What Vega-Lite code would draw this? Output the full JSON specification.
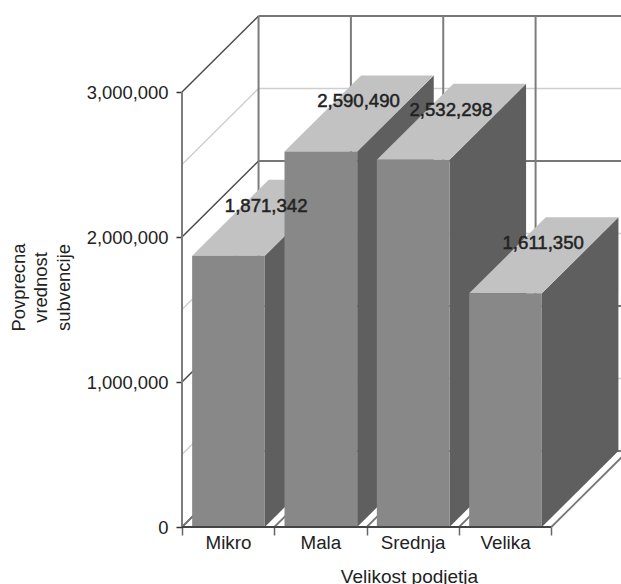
{
  "$schema": "https://vega.github.io/schema/vega-lite/v6.json",
  "autosize": "none",
  "width": 439,
  "height": 511,
  "padding": {"left": 182, "top": 16, "right": 0, "bottom": 57},
  "background": "white",
  "config": {"view": {"stroke": null}, "font": "Liberation Sans"},
  "datasets": {
    "firms": [
      {"size": "Mikro", "value": 1871342},
      {"size": "Mala", "value": 2590490},
      {"size": "Srednja", "value": 2532298},
      {"size": "Velika", "value": 1611350}
    ],
    "levels": [
      {"level": 0, "tier": "major"},
      {"level": 500000, "tier": "minor"},
      {"level": 1000000, "tier": "major"},
      {"level": 1500000, "tier": "minor"},
      {"level": 2000000, "tier": "major"},
      {"level": 2500000, "tier": "minor"},
      {"level": 3000000, "tier": "major"}
    ],
    "boundaries": [
      {"boundary": 0},
      {"boundary": 1},
      {"boundary": 2},
      {"boundary": 3},
      {"boundary": 4}
    ]
  },
  "layer": [
    {
      "description": "Left wall: receding grid lines, with both axes attached",
      "data": {"name": "levels"},
      "transform": [
        {"calculate": "datum.level + 524138", "as": "backLevel"},
        {"calculate": "0", "as": "wallFront"},
        {"calculate": "0.829", "as": "wallBack"}
      ],
      "mark": {"type": "rule", "strokeWidth": 1.5},
      "encoding": {
        "x": {
          "field": "wallFront",
          "type": "quantitative",
          "scale": {"domain": [0, 4.754], "nice": false, "zero": false},
          "axis": {
            "orient": "bottom",
            "values": [0, 1, 2, 3, 4],
            "labelExpr": "['Mikro','Mala','Srednja','Velika',''][datum.value]",
            "labelOffset": 46,
            "labelFontSize": 18.8,
            "labelColor": "#222222",
            "labelPadding": -2,
            "labelOverlap": false,
            "labelBound": false,
            "labelFlush": false,
            "domain": false,
            "grid": false,
            "tickSize": 8,
            "tickColor": "#666666",
            "tickWidth": 1.5,
            "title": "Velikost podjetja",
            "titleFont": "Liberation Sans",
            "titleFontSize": 19,
            "titleFontWeight": "normal",
            "titleColor": "#222222",
            "titleX": 227,
            "titleY": 55,
            "titleAlign": "center",
            "titleBaseline": "alphabetic"
          }
        },
        "x2": {"field": "wallBack"},
        "y": {
          "field": "level",
          "type": "quantitative",
          "scale": {"domain": [0, 3524138], "nice": false, "zero": true},
          "axis": {
            "values": [0, 1000000, 2000000, 3000000],
            "labelExpr": "format(datum.value, ',')",
            "labelFontSize": 18.4,
            "labelColor": "#222222",
            "labelPadding": 8,
            "domain": false,
            "grid": false,
            "tickSize": 6,
            "tickColor": "#333333",
            "tickWidth": 1.5,
            "title": ["Povprecna", "vrednost", "subvencije"],
            "titleFont": "Liberation Sans",
            "titleFontSize": 18.4,
            "titleFontWeight": "normal",
            "titleColor": "#222222",
            "titleLineHeight": 22.5,
            "titleX": -154,
            "titleY": 271,
            "titleAlign": "center",
            "titleAngle": -90
          }
        },
        "y2": {"field": "backLevel"},
        "color": {
          "field": "tier",
          "type": "nominal",
          "scale": {"domain": ["major", "minor"], "range": ["#4a4a4a", "#cfcfcf"]},
          "legend": null
        }
      }
    },
    {
      "description": "Back wall: horizontal grid lines",
      "data": {"name": "levels"},
      "transform": [
        {"calculate": "datum.level + 524138", "as": "backLevel"},
        {"calculate": "0.829", "as": "wallLeft"},
        {"calculate": "4.754", "as": "wallRight"}
      ],
      "mark": {"type": "rule", "strokeWidth": 1.5},
      "encoding": {
        "x": {"field": "wallLeft", "type": "quantitative", "scale": {"domain": [0, 4.754], "nice": false, "zero": false}},
        "x2": {"field": "wallRight"},
        "y": {"field": "backLevel", "type": "quantitative", "scale": {"domain": [0, 3524138], "nice": false, "zero": true}},
        "color": {
          "field": "tier",
          "type": "nominal",
          "scale": {"domain": ["major", "minor"], "range": ["#4a4a4a", "#cfcfcf"]},
          "legend": null
        }
      }
    },
    {
      "description": "Back wall: vertical lines at the category boundaries",
      "data": {"name": "boundaries"},
      "transform": [
        {"calculate": "datum.boundary + 0.829", "as": "backX"},
        {"calculate": "524138", "as": "wallFoot"},
        {"calculate": "3524138", "as": "wallHead"}
      ],
      "mark": {"type": "rule", "strokeWidth": 2, "color": "#7c7c7c"},
      "encoding": {
        "x": {"field": "backX", "type": "quantitative", "scale": {"domain": [0, 4.754], "nice": false, "zero": false}},
        "y": {"field": "wallFoot", "type": "quantitative", "scale": {"domain": [0, 3524138], "nice": false, "zero": true}},
        "y2": {"field": "wallHead"}
      }
    },
    {
      "description": "Floor: receding lines from each category boundary",
      "data": {"name": "boundaries"},
      "transform": [
        {"calculate": "datum.boundary + 0.829", "as": "backX"},
        {"calculate": "0", "as": "floorFront"},
        {"calculate": "524138", "as": "floorBack"}
      ],
      "mark": {"type": "rule", "strokeWidth": 1.8, "color": "#777777"},
      "encoding": {
        "x": {"field": "boundary", "type": "quantitative", "scale": {"domain": [0, 4.754], "nice": false, "zero": false}},
        "x2": {"field": "backX"},
        "y": {"field": "floorFront", "type": "quantitative", "scale": {"domain": [0, 3524138], "nice": false, "zero": true}},
        "y2": {"field": "floorBack"}
      }
    },
    {
      "description": "Side faces of the columns",
      "data": {"name": "firms"},
      "transform": [
        {"calculate": "indexof(['Mikro','Mala','Srednja','Velika'], datum.size)", "as": "slot"},
        {"calculate": "[0, 1]", "as": "depth"},
        {"flatten": ["depth"]},
        {"calculate": "datum.slot + 0.897 + datum.depth * 0.829", "as": "sideX"},
        {"calculate": "datum.depth * 524138", "as": "sideFoot"},
        {"calculate": "datum.value + datum.depth * 524138", "as": "sideHead"}
      ],
      "mark": {"type": "area", "color": "#5f5f5f", "opacity": 1, "clip": false},
      "encoding": {
        "x": {"field": "sideX", "type": "quantitative", "scale": {"domain": [0, 4.754], "nice": false, "zero": false}},
        "y": {"field": "sideHead", "type": "quantitative", "stack": null, "scale": {"domain": [0, 3524138], "nice": false, "zero": true}},
        "y2": {"field": "sideFoot"},
        "detail": {"field": "size"}
      }
    },
    {
      "description": "Top faces of the columns",
      "data": {"name": "firms"},
      "transform": [
        {"calculate": "indexof(['Mikro','Mala','Srednja','Velika'], datum.size)", "as": "slot"},
        {"calculate": "[0, 1]", "as": "depth"},
        {"flatten": ["depth"]},
        {"calculate": "datum.slot + 0.11 + datum.depth * 0.829", "as": "topLeft"},
        {"calculate": "datum.slot + 0.897 + datum.depth * 0.829", "as": "topRight"},
        {"calculate": "datum.value + datum.depth * 524138", "as": "topY"}
      ],
      "mark": {"type": "area", "orient": "horizontal", "color": "#c2c2c2", "opacity": 1, "clip": false},
      "encoding": {
        "y": {"field": "topY", "type": "quantitative", "scale": {"domain": [0, 3524138], "nice": false, "zero": true}},
        "x": {"field": "topLeft", "type": "quantitative", "stack": null, "scale": {"domain": [0, 4.754], "nice": false, "zero": false}},
        "x2": {"field": "topRight"},
        "detail": {"field": "size"}
      }
    },
    {
      "description": "Front faces of the columns",
      "data": {"name": "firms"},
      "transform": [
        {"calculate": "indexof(['Mikro','Mala','Srednja','Velika'], datum.size)", "as": "slot"},
        {"calculate": "datum.slot + 0.11", "as": "frontLeft"},
        {"calculate": "datum.slot + 0.897", "as": "frontRight"}
      ],
      "mark": {"type": "rect", "color": "#888888"},
      "encoding": {
        "x": {"field": "frontLeft", "type": "quantitative", "scale": {"domain": [0, 4.754], "nice": false, "zero": false}},
        "x2": {"field": "frontRight"},
        "y": {"field": "value", "type": "quantitative", "scale": {"domain": [0, 3524138], "nice": false, "zero": true}},
        "y2": {"datum": 0}
      }
    },
    {
      "description": "Axis frame: vertical value line",
      "data": {"values": [{"axisFoot": 0, "axisHead": 3000000, "axisX": 0}]},
      "mark": {"type": "rule", "strokeWidth": 2, "color": "#7c7c7c"},
      "encoding": {
        "x": {"field": "axisX", "type": "quantitative", "scale": {"domain": [0, 4.754], "nice": false, "zero": false}},
        "y": {"field": "axisFoot", "type": "quantitative", "scale": {"domain": [0, 3524138], "nice": false, "zero": true}},
        "y2": {"field": "axisHead"}
      }
    },
    {
      "description": "Axis frame: front floor edge",
      "data": {"values": [{"edgeStart": 0, "edgeEnd": 4, "edgeY": 0}]},
      "mark": {"type": "rule", "strokeWidth": 1.8, "color": "#444444"},
      "encoding": {
        "x": {"field": "edgeStart", "type": "quantitative", "scale": {"domain": [0, 4.754], "nice": false, "zero": false}},
        "x2": {"field": "edgeEnd"},
        "y": {"field": "edgeY", "type": "quantitative", "scale": {"domain": [0, 3524138], "nice": false, "zero": true}}
      }
    },
    {
      "description": "Value labels above each column",
      "data": {"name": "firms"},
      "transform": [
        {"calculate": "indexof(['Mikro','Mala','Srednja','Velika'], datum.size) + 0.5", "as": "centre"}
      ],
      "mark": {"type": "text", "dx": 38, "dy": -50, "fontSize": 18.6, "color": "#222222", "stroke": "#222222", "strokeWidth": 0.5, "align": "center", "baseline": "middle"},
      "encoding": {
        "x": {"field": "centre", "type": "quantitative", "scale": {"domain": [0, 4.754], "nice": false, "zero": false}},
        "y": {"field": "value", "type": "quantitative", "scale": {"domain": [0, 3524138], "nice": false, "zero": true}},
        "text": {"field": "value", "type": "quantitative", "format": ","}
      }
    }
  ]
}
